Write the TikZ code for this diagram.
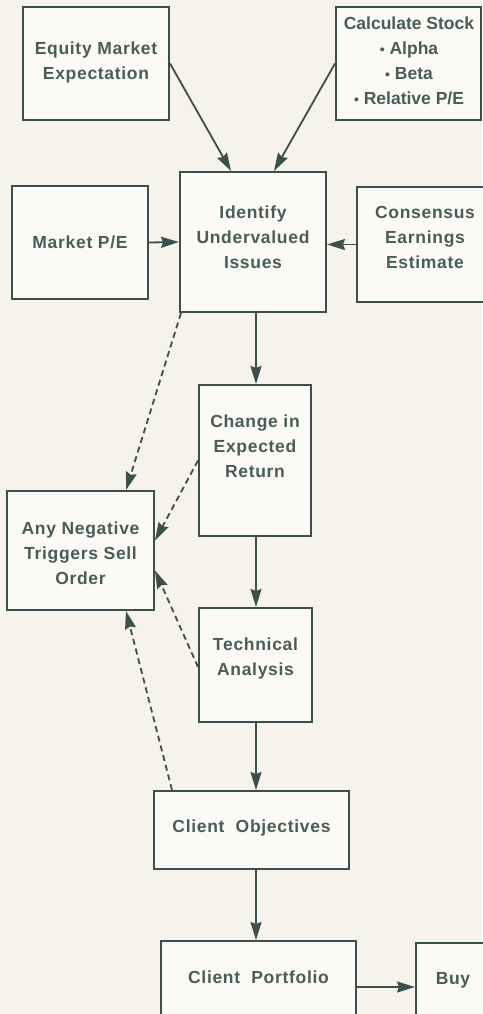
\documentclass[tikz,border=0pt]{standalone}
\usepackage{fontspec}
\setmainfont{Liberation Sans}[LetterSpace=4]
\newfontfamily\tightfont{Liberation Sans}
\usetikzlibrary{arrows.meta,calc}
\definecolor{bg}{HTML}{F6F4EA}
\definecolor{ink}{HTML}{3B504A}
\definecolor{txt}{HTML}{4A5C57}
\newcommand{\bul}{{\fontsize{14}{14}\selectfont\textbullet}}
\tikzset{
  box/.style={draw=ink, line width=2pt, fill=white!55!bg, rectangle, inner sep=0pt},
  lbl/.style={text=txt, font=\bfseries\fontsize{17.5}{25}\selectfont, align=center, inner sep=0pt},
  arr/.style={draw=ink, line width=1.8pt, -{Stealth[length=18pt,width=11pt,inset=2pt]}},
  darr/.style={arr, dash pattern=on 6pt off 4pt}
}
\begin{document}
\begin{tikzpicture}[x=1pt,y=-1pt]
\useasboundingbox[fill=bg] (0,0) rectangle (482,1014);
% boxes
\node[box, minimum width=146pt, minimum height=113pt] (eq) at (96,63.5) {};
\node[lbl] (eqt) at (96,62) {Equity Market\\Expectation};
\node[box, minimum width=145pt, minimum height=113pt] (calc) at (408.5,63.5) {};
\node[lbl, font=\tightfont\bfseries\fontsize{17.5}{25}\selectfont] (calct) at (409,61) {Calculate Stock\\\bul\ Alpha\\\bul\ Beta\\\bul\ Relative P/E};
\node[box, minimum width=136pt, minimum height=113pt] (mpe) at (80,242.5) {};
\node[lbl] (mpet) at (80,242) {Market P/E};
\node[box, minimum width=146pt, minimum height=140pt] (idf) at (253,242) {};
\node[lbl] (idft) at (253,237) {Identify\\Undervalued\\Issues};
\node[box, minimum width=136pt, minimum height=115pt] (cons) at (425,244.5) {};
\node[lbl] (const) at (425,237) {Consensus\\Earnings\\Estimate};
\node[box, minimum width=112pt, minimum height=151pt] (chg) at (255,460.5) {};
\node[lbl] (chgt) at (255,446) {Change in\\Expected\\Return};
\node[box, minimum width=147pt, minimum height=119pt] (anq) at (80.5,550.5) {};
\node[lbl] (anqt) at (80.5,553) {Any Negative\\Triggers Sell\\Order};
\node[box, minimum width=113pt, minimum height=114pt] (tech) at (255.5,665) {};
\node[lbl] (techt) at (255.5,658) {Technical\\Analysis};
\node[box, minimum width=195pt, minimum height=78pt] (cob) at (251.5,830) {};
\node[lbl] (cobt) at (251.5,828) {Client\ \ Objectives};
\node[box, minimum width=195pt, minimum height=82pt] (cpf) at (258.5,982) {};
\node[lbl] (cpft) at (258.5,977) {Client\ \ Portfolio};
\node[box, minimum width=90pt, minimum height=80pt] (buy) at (461,983) {};
\node[lbl] (buyt) at (453,980) {Buy};
\coordinate (spine) at (256,0);
% solid arrows
\draw[arr] (eq.east) -- ([xshift=52pt]idf.north west);
\draw[arr] (calc.west) -- ([xshift=-53pt]idf.north east);
\draw[arr] (mpe.east) -- (idf.west);
\draw[arr] (cons.west) -- (cons.west -| idf.east);
\draw[arr] (spine |- idf.south) -- (spine |- chg.north);
\draw[arr] (spine |- chg.south) -- (spine |- tech.north);
\draw[arr] (spine |- tech.south) -- (spine |- cob.north);
\draw[arr] (spine |- cob.south) -- (spine |- cpf.north);
\draw[arr] ([yshift=-5pt]cpf.east) -- ([yshift=-5pt]cpf.east -| buy.west);
% dashed arrows
\draw[darr] ([xshift=2pt]idf.south west) -- ([xshift=-29pt]anq.north east);
\draw[darr] (chg.west) -- ([yshift=10pt]anq.east);
\draw[darr] ([yshift=-2pt]tech.west) -- ([yshift=-20pt]anq.east);
\draw[darr] ([xshift=19pt]cob.north west) -- ([xshift=-29pt]anq.south east);
\end{tikzpicture}
\end{document}
